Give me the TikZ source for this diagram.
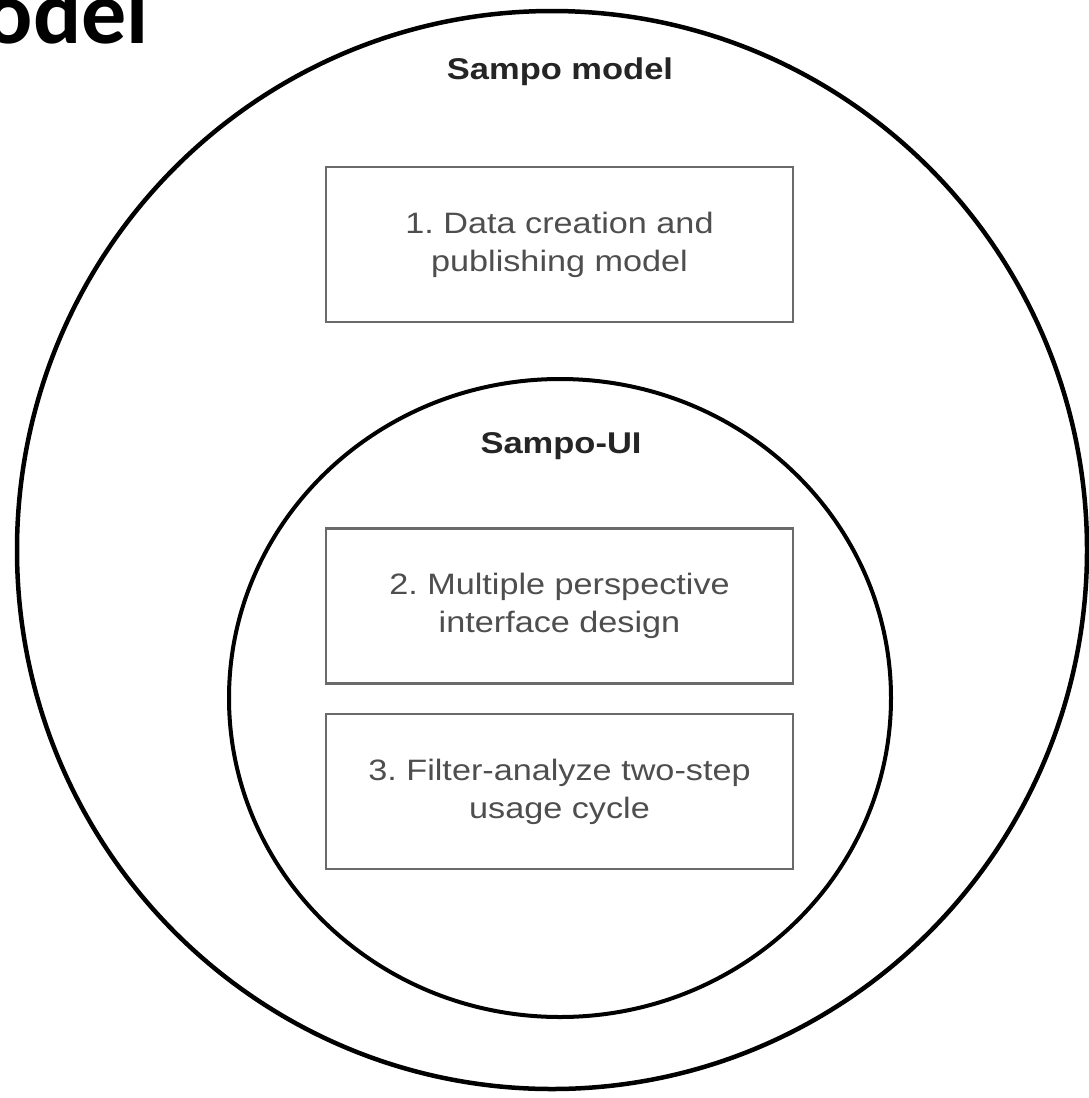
\documentclass[tikz,border=0pt]{standalone}
\usepackage{fontspec}
\setmainfont{Liberation Sans}
\newfontfamily\headfont{Carlito}
\usetikzlibrary{shapes.geometric}
\frenchspacing
\definecolor{boxtext}{HTML}{4E4E4E}
\definecolor{boxline}{HTML}{6A6A6A}
\definecolor{titletext}{HTML}{252525}
\newcommand{\boxlines}[2]{\scalebox{1.16}[1]{\fontsize{29.5}{38}\selectfont\begin{tabular}{@{}c@{}}#1\\#2\end{tabular}}}
\begin{document}
\begin{tikzpicture}[x=1pt,y=-1pt,
  ring/.style={ellipse, draw=black, line width=4.5pt, inner sep=0pt, fill=none},
  stepbox/.style={rectangle, draw=boxline, line width=2.2pt, minimum width=467pt, minimum height=155pt, inner sep=0pt, text=boxtext},
  ringtitle/.style={anchor=base, text=titletext, font=\bfseries\fontsize{30}{34}\selectfont, xscale=1.15, transform shape, inner sep=0pt}]
\useasboundingbox (0,0) rectangle (1089,1098);
\clip (0,0) rectangle (1089,1098);
\fill[white] (0,0) rectangle (1089,1098);
% heading fragment
\node[anchor=base east, inner sep=0pt, font=\headfont\bfseries\fontsize{90}{90}\selectfont] (head) at (149,43) {odel};
% rings
\node[ring, minimum width=1070pt, minimum height=1078pt] (outer) at (552,550) {};
\node[ring, line width=4pt, minimum width=662pt, minimum height=638pt] (inner) at (560,698) {};
% titles
\node[ringtitle] (t1) at (560,79) {Sampo model};
\node[ringtitle] (t2) at (561,453) {Sampo-UI};
% boxes
\node[stepbox] (b1) at (559.5,244.5) {\boxlines{1. Data creation and}{publishing model}};
\node[stepbox] (b2) at (559.5,606) {\boxlines{2. Multiple perspective}{interface design}};
\node[stepbox] (b3) at (559.5,791.5) {\boxlines{3. Filter-analyze two-step}{usage cycle}};
\end{tikzpicture}
\end{document}
